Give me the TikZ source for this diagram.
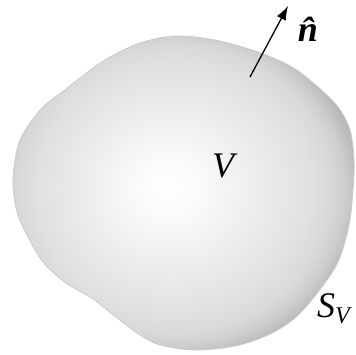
\documentclass[tikz,border=0pt]{standalone}
\usepackage{fontspec}
\setmainfont{Liberation Serif}
\usetikzlibrary{arrows.meta}

\definecolor{shadeA}{gray}{1.00}
\definecolor{shadeB}{gray}{0.98}
\definecolor{shadeC}{gray}{0.93}
\definecolor{shadeD}{gray}{0.88}
\definecolor{shadeE}{gray}{0.85}
\definecolor{shadeF}{gray}{0.80}
\definecolor{shadeG}{gray}{0.72}
\definecolor{shadeH}{gray}{0.66}
\pgfdeclareradialshading{blobshade}{\pgfpoint{-2.5bp}{0.95bp}}{%
  color(0bp)=(shadeA); color(5bp)=(shadeB); color(12.5bp)=(shadeC);
  color(20bp)=(shadeD); color(23bp)=(shadeE); color(25bp)=(shadeF);
  color(27bp)=(shadeG); color(28.5bp)=(shadeH); color(50bp)=(shadeH)}

\tikzset{
  lbl/.style={inner sep=0pt, anchor=base, font=\fontsize{36}{40}\selectfont\itshape},
}

\begin{document}
\begin{tikzpicture}[x=1pt, y=-1pt, >={Latex[length=14pt,width=10pt]}]
  \useasboundingbox (0,0) rectangle (355,355);
  % the region V and its surface S_V
  \path[shading=blobshade, draw=black!20, line width=0.8pt]
    plot[smooth cycle, tension=0.55] coordinates {
      (175,36) (215,40) (258,52) (292,67) (318,87) (338,107) (350,130)
      (354,160) (353,190) (349,225) (338,262) (318,292) (295,318)
      (268,335) (235,346) (195,350) (160,345) (140,335) (117,318)
      (93,299) (66,283) (43,262) (27,235) (17,212) (13,185) (15,160)
      (20,140) (30,123) (44,106) (66,89) (89,71) (110,57) (140,43)};
  \node[lbl] (vol) at (223,178) {V};
  \node[lbl, anchor=base west] (surf) at (317,317) {S\raisebox{-6pt}{\fontsize{24}{26}\selectfont V}};
  % outward normal
  \coordinate (tail) at (250,77);
  \coordinate (tip) at (288,6);
  \draw[->, line width=1.3pt] (tail) -- (tip);
  \node[lbl, font=\fontsize{36}{40}\selectfont\bfseries\itshape] (normal) at (308,42) {\^{n}};
\end{tikzpicture}
\end{document}
